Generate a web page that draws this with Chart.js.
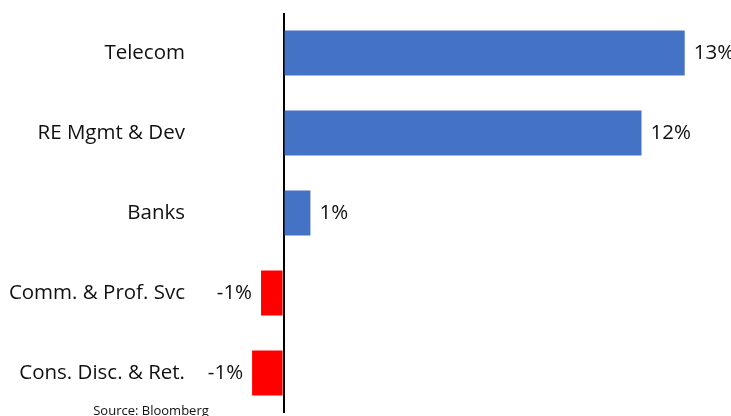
<!DOCTYPE html>
<html>
<head>
<meta charset="utf-8">
<script src="https://cdn.jsdelivr.net/npm/chart.js@4.4.1/dist/chart.umd.min.js"></script>
<style>
  html, body { margin: 0; padding: 0; background: #fff; }
  #wrap { position: relative; width: 731px; height: 416px; }
</style>
</head>
<body>
<div id="wrap"><canvas id="chart" width="731" height="416"></canvas></div>
<script>
// values (percent)
const sectors = ['Telecom', 'RE Mgmt & Dev', 'Banks', 'Comm. & Prof. Svc', 'Cons. Disc. & Ret.'];
const returns = [13.0, 11.6, 0.87, -0.73, -1.02];
const barLabels = ['13%', '12%', '1%', '-1%', '-1%'];
const sourceNote = 'Source: Bloomberg';

const FONT = "'Open Sans', 'Noto Sans', sans-serif";

// writes the % next to each bar end
const valueLabels = {
    id: 'valueLabels',
    afterDatasetsDraw(chart) {
        const ctx = chart.ctx;
        const meta = chart.getDatasetMeta(0);
        ctx.save();
        ctx.font = '20.5px ' + FONT;
        ctx.fillStyle = '#111';
        ctx.textBaseline = 'middle';
        meta.data.forEach((bar, i) => {
            if (returns[i] >= 0) {
                ctx.textAlign = 'left';
                ctx.fillText(barLabels[i], bar.x + 9, bar.y);
            } else {
                ctx.textAlign = 'right';
                ctx.fillText(barLabels[i], bar.x - 9, bar.y);
            }
        });
        ctx.restore();
    }
};

const sourceText = {
    id: 'sourceText',
    afterDraw(chart) {
        const ctx = chart.ctx;
        ctx.save();
        ctx.font = '13px ' + FONT;
        ctx.fillStyle = '#111';
        ctx.textAlign = 'center';
        ctx.textBaseline = 'alphabetic';
        ctx.fillText(sourceNote, 151, 415);
        ctx.restore();
    }
};

new Chart(document.getElementById('chart'), {
    type: 'bar',
    data: {
        labels: sectors,
        datasets: [{
            data: returns,
            backgroundColor: returns.map(v => v >= 0 ? '#4472C4' : '#FF0000'),
            borderWidth: 0,
            categoryPercentage: 1,
            barPercentage: 0.5625
        }]
    },
    options: {
        indexAxis: 'y',
        responsive: false,
        animation: false,
        layout: { padding: { left: 0, right: 0, top: 13, bottom: 3 } },
        plugins: {
            legend: { display: false },
            tooltip: { enabled: false }
        },
        scales: {
            x: {
                min: -3,
                max: 14.5,
                ticks: { display: false, stepSize: 1 },
                border: { display: false },
                grid: {
                    drawTicks: false,
                    color: c => c.tick && c.tick.value === 0 ? '#000' : 'rgba(0,0,0,0)',
                    lineWidth: c => c.tick && c.tick.value === 0 ? 2 : 0
                },
                afterFit: s => { s.height = 0; s.paddingLeft = 0; s.paddingRight = 0; }
            },
            y: {
                border: { display: false },
                grid: { display: false, drawTicks: false },
                ticks: {
                    padding: 6,
                    color: '#111',
                    font: { family: FONT, size: 20.5 }
                },
                afterFit: s => { s.width = 191; s.paddingTop = 0; s.paddingBottom = 0; }
            }
        }
    },
    plugins: [valueLabels, sourceText]
});
</script>
</body>
</html>
